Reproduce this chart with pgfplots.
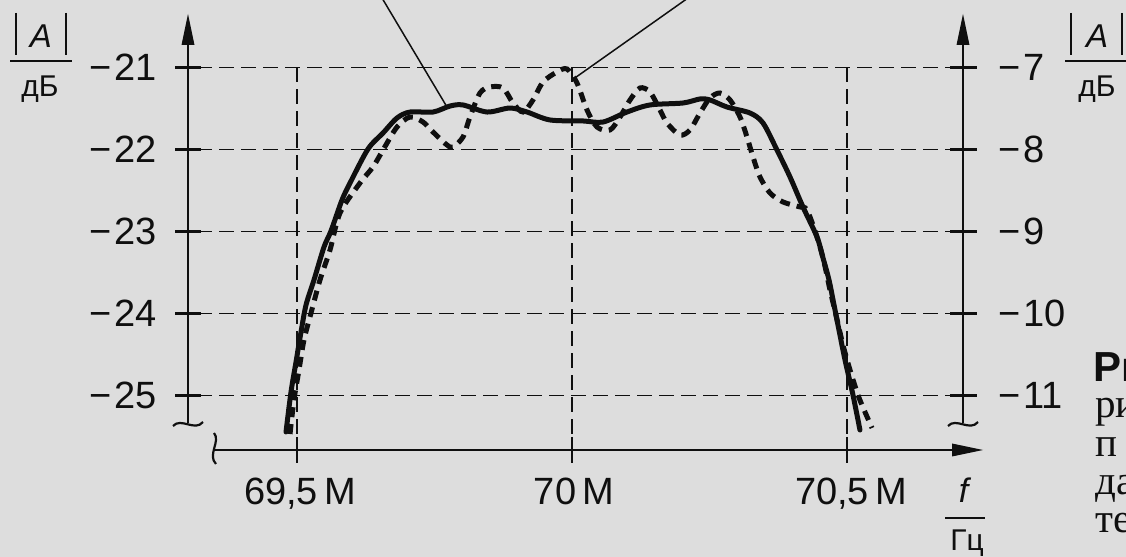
\documentclass[border=0pt]{standalone}
\usepackage{pgfplots}
\pgfplotsset{compat=1.18}
\usepackage{pgfplotstable}
\usepackage{fontspec}
\setmainfont{Liberation Sans}
\newfontfamily\serif{Liberation Serif}
\definecolor{bg}{RGB}{221,221,221}
\definecolor{ink}{RGB}{15,15,15}

% solid curve, left scale (|A| in dB)
\pgfplotstableread{
f A
69.4800 -25.445
69.4891 -24.957
69.4982 -24.591
69.5073 -24.226
69.5164 -23.896
69.5309 -23.591
69.5491 -23.189
69.5618 -22.994
69.5818 -22.616
69.5964 -22.409
69.6291 -21.994
69.6564 -21.799
69.6818 -21.616
69.7055 -21.543
69.7473 -21.543
69.7782 -21.470
69.8018 -21.457
69.8455 -21.543
69.8873 -21.494
69.9182 -21.543
69.9600 -21.640
70.0200 -21.652
70.0564 -21.665
70.1000 -21.543
70.1418 -21.457
70.2018 -21.433
70.2327 -21.384
70.2509 -21.396
70.2818 -21.482
70.3236 -21.555
70.3473 -21.677
70.3727 -22.006
70.3964 -22.335
70.4200 -22.701
70.4455 -23.067
70.4564 -23.323
70.4673 -23.591
70.4764 -23.896
70.4836 -24.140
70.4964 -24.567
70.5109 -24.994
70.5236 -25.421
}\solidtab

% dashed curve, right scale (|A| in dB)
\pgfplotstableread{
f A
69.4873 -11.470
69.4945 -11.055
69.5036 -10.689
69.5127 -10.323
69.5255 -9.994
69.5418 -9.591
69.5600 -9.226
69.5782 -8.774
69.6145 -8.409
69.6382 -8.213
69.6564 -8.006
69.6818 -7.726
69.7055 -7.604
69.7291 -7.665
69.7473 -7.787
69.7727 -7.945
69.7836 -7.970
69.8018 -7.848
69.8145 -7.604
69.8327 -7.311
69.8509 -7.238
69.8745 -7.250
69.8927 -7.433
69.9109 -7.543
69.9291 -7.396
69.9473 -7.177
69.9727 -7.055
69.9909 -7.018
70.0091 -7.189
70.0273 -7.518
70.0455 -7.726
70.0691 -7.762
70.0873 -7.604
70.1055 -7.396
70.1236 -7.250
70.1418 -7.299
70.1600 -7.518
70.1727 -7.677
70.1964 -7.823
70.2145 -7.762
70.2327 -7.555
70.2509 -7.372
70.2691 -7.311
70.2873 -7.396
70.3055 -7.604
70.3182 -7.848
70.3291 -8.091
70.3418 -8.335
70.3600 -8.530
70.3836 -8.640
70.4145 -8.701
70.4273 -8.738
70.4455 -9.067
70.4582 -9.372
70.4691 -9.713
70.4800 -10.018
70.4927 -10.384
70.5055 -10.689
70.5200 -10.994
70.5327 -11.201
70.5455 -11.396
}\dashtab

\pgfplotsset{
  base/.style={at={(0,0)}, anchor=south west, width=563pt, height=278.5pt,
    scale only axis, hide axis, xmin=68.96, xmax=71.0073},
}

\begin{document}
\begin{tikzpicture}
\begin{scope}[x=0.5pt,y=-0.5pt,yshift=278.5pt]
\useasboundingbox (0,0) rectangle (1126,557);
\fill[bg] (0,0) rectangle (1126,557);

% dashed grid
\begin{scope}[ink, line width=0.85pt, dash pattern=on 7.5pt off 3.5pt]
\foreach \k in {0,...,4} \draw (175,67.5+82*\k) -- (977,67.5+82*\k);
\foreach \xx in {297,572,847} \draw (\xx,67.5) -- (\xx,463);
\end{scope}

% axes
\begin{scope}[ink, line width=1.3pt]
\draw (188,423) -- (188,40);
\draw (963,423) -- (963,40);
\draw (215,450) -- (955,450);
\fill (188,14) -- (181.5,45) -- (194.5,45) -- cycle;
\fill (963,14) -- (956.5,45) -- (969.5,45) -- cycle;
\fill (983,450) -- (952,443.5) -- (952,456.5) -- cycle;
\foreach \k in {0,...,4} {
  \draw (175,67.5+82*\k) -- (201,67.5+82*\k);
  \draw (950,67.5+82*\k) -- (977,67.5+82*\k);
}
\foreach \xx in {297,572,847} \draw (\xx,437) -- (\xx,463);
\draw[line width=1.1pt] (173,426) .. controls (181,417) and (195,432) .. (203,422);
\draw[line width=1.1pt] (948,426) .. controls (956,417) and (970,432) .. (978,422);
\draw[line width=1.1pt] (214,433) .. controls (221,441) and (207,455) .. (216,464);
\end{scope}

% leader lines
\draw[ink, line width=0.75pt] (382,-2) -- (447,107);
\draw[ink, line width=0.75pt] (688,-2) -- (572,80);

% tick labels
\begin{scope}[font=\fontsize{19}{22}\selectfont, text=ink]
\foreach \k/\v in {0/21,1/22,2/23,3/24,4/25}
  \node[anchor=east, inner sep=0pt] at (157,67.5+82*\k) {−\kern1.5pt\v};
\foreach \k/\v in {0/7,1/8,2/9,3/10,4/11}
  \node[anchor=west, inner sep=0pt] at (998,67.5+82*\k) {−\kern1.5pt\v};
\node[anchor=base, inner sep=0pt] at (300,505) {69,5\,M};
\node[anchor=base, inner sep=0pt] at (574,505) {70\,M};
\node[anchor=base, inner sep=0pt] at (851,505) {70,5\,M};
\end{scope}

% axis labels
\begin{scope}[ink, line width=1.3pt]
\draw (16,13) -- (16,55); \draw (66,13) -- (66,55);
\draw[line width=1pt] (10,61) -- (72,61);
\draw (1071,13) -- (1071,55); \draw (1122,13) -- (1122,55);
\draw[line width=1pt] (1065,61) -- (1130,61);
\draw[line width=1pt] (945,518) -- (985,518);
\end{scope}
\begin{scope}[text=ink, inner sep=0pt]
\node[anchor=base, font=\fontsize{16.5}{17}\selectfont] at (41,48) {\textit{A}};
\node[anchor=base, font=\fontsize{15}{15}\selectfont] at (40,97) {дБ};
\node[anchor=base, font=\fontsize{16.5}{17}\selectfont] at (1097,48) {\textit{A}};
\node[anchor=base, font=\fontsize{15}{15}\selectfont] at (1097,97) {дБ};
\node[anchor=base, font=\fontsize{17}{17}\selectfont] at (965,503) {\textit{f}};
\node[anchor=base, font=\fontsize{15}{15}\selectfont] at (967,551) {Гц};
% caption fragments (cut by the page edge, as in the reference)
\node[anchor=base west, font=\fontsize{21}{21}\selectfont\bfseries] at (1093,382) {Рис.};
\node[anchor=base west, font=\serif\fontsize{20.5}{21}\selectfont] at (1095,418) {ри};
\node[anchor=base west, font=\serif\fontsize{20.5}{21}\selectfont] at (1095,457) {п};
\node[anchor=base west, font=\serif\fontsize{20.5}{21}\selectfont] at (1095,495) {да};
\node[anchor=base west, font=\serif\fontsize{20.5}{21}\selectfont] at (1095,533) {те};
\end{scope}
\end{scope}

\begin{axis}[base, ymin=-26.9695, ymax=-20.17683]
\addplot[ink, line width=2.5pt, smooth, tension=0.5, line join=round, line cap=round]
  table[x=f, y=A] {\solidtab};
\end{axis}
\begin{axis}[base, ymin=-12.9695, ymax=-6.17683]
\addplot[ink, line width=2.5pt, smooth, tension=0.5, dash pattern=on 5pt off 3.5pt]
  table[x=f, y=A] {\dashtab};
\end{axis}
\end{tikzpicture}
\end{document}
